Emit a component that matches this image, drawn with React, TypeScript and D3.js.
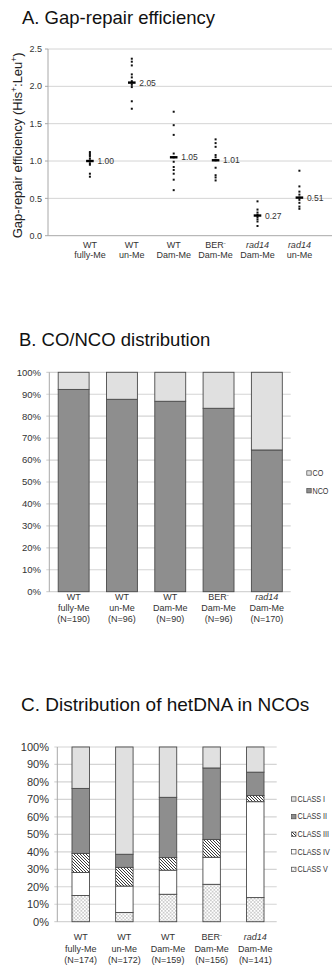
import React from "react";
import * as d3 from "d3";

// ---------- Panel A: gap-repair efficiency (individual values + means) ----------
const strainsA = ["WT", "WT", "WT", "BER", "rad14", "rad14"];
const methA = ["fully-Me", "un-Me", "Dam-Me", "Dam-Me", "Dam-Me", "un-Me"];
const dotsA: number[][] = [
  [1.12, 1.1, 1.08, 1.06, 1.03, 1.0, 0.97, 0.95, 0.83, 0.79],
  [2.37, 2.33, 2.28, 2.16, 2.12, 2.07, 2.05, 2.02, 1.99, 1.8, 1.7],
  [1.66, 1.48, 1.35, 1.1, 1.05, 0.99, 0.92, 0.88, 0.83, 0.75, 0.61],
  [1.29, 1.24, 1.19, 1.08, 1.05, 1.01, 0.91, 0.81, 0.78, 0.74],
  [0.46, 0.35, 0.31, 0.28, 0.25, 0.22, 0.19, 0.13],
  [0.87, 0.66, 0.59, 0.55, 0.51, 0.48, 0.44, 0.39, 0.36],
];
const meansA = [1.0, 2.05, 1.05, 1.01, 0.27, 0.51];
const yTicksA = [0, 0.5, 1, 1.5, 2, 2.5];

// ---------- Panel B: CO / NCO distribution ----------
const strainsB = ["WT", "WT", "WT", "BER", "rad14"];
const methB = ["fully-Me", "un-Me", "Dam-Me", "Dam-Me", "Dam-Me"];
const countsB = [190, 96, 90, 96, 170];
const ncoB = [92.2, 87.7, 86.8, 83.6, 64.6];
const coB = [7.8, 12.3, 13.2, 16.4, 35.4];
const seriesB = ["NCO", "CO"];

// ---------- Panel C: hetDNA classes among NCOs ----------
const strainsC = ["WT", "WT", "WT", "BER", "rad14"];
const methC = ["fully-Me", "un-Me", "Dam-Me", "Dam-Me", "Dam-Me"];
const countsC = [174, 172, 159, 156, 141];
const classV = [15.0, 5.3, 15.7, 21.4, 13.8];
const classIV = [13.2, 15.1, 13.8, 15.5, 54.9];
const classIII = [10.9, 10.7, 7.2, 10.2, 3.5];
const classII = [37.2, 7.5, 34.5, 40.9, 13.4];
const classI = [23.7, 61.4, 28.8, 12.0, 14.4];
const seriesC = ["CLASS V", "CLASS IV", "CLASS III", "CLASS II", "CLASS I"];
const legendC = ["CLASS I", "CLASS II", "CLASS III", "CLASS IV", "CLASS V"];

const pctTicks = [0, 0.1, 0.2, 0.3, 0.4, 0.5, 0.6, 0.7, 0.8, 0.9, 1];

const FONT = "'Liberation Sans', Arial, Helvetica, sans-serif";
const TEXT = "#333";
const GRID = "#d4d4d4";
const AXIS = "#a8a8a8";
const EDGE = "#4a4a4a";

const fillB: Record<string, string> = { NCO: "#8e8e8e", CO: "#e0e0e0" };
const fillC: Record<string, string> = {
  "CLASS I": "#e0e0e0",
  "CLASS II": "#8e8e8e",
  "CLASS III": "url(#hatch)",
  "CLASS IV": "#ffffff",
  "CLASS V": "url(#dots)",
};

function Strain({ name }: { name: string }) {
  if (name === "BER")
    return (
      <>
        BER
        <tspan fontSize={6} dy={-3.5}>
          -
        </tspan>
      </>
    );
  if (name === "rad14") return <tspan fontStyle="italic">rad14</tspan>;
  return <>{name}</>;
}

function CatLabel({
  x,
  y,
  strain,
  meth,
  count,
  gap,
}: {
  x: number;
  y: number;
  strain: string;
  meth: string;
  count?: number;
  gap: number;
}) {
  return (
    <g fontFamily={FONT} fontSize={9} fill={TEXT} textAnchor="middle">
      <text x={x} y={y}>
        <Strain name={strain} />
      </text>
      <text x={x} y={y + gap}>
        {meth}
      </text>
      {count !== undefined && (
        <text x={x} y={y + gap * 2}>
          (N={count})
        </text>
      )}
    </g>
  );
}

function LegendText({ x, y, label }: { x: number; y: number; label: string }) {
  return (
    <text
      transform={`translate(${x},${y}) scale(0.8,1)`}
      fontFamily={FONT}
      fontSize={9}
      fill={TEXT}
      dominantBaseline="middle"
    >
      {label}
    </text>
  );
}

function PanelA() {
  const y = d3.scaleLinear().domain([0, 2.5]).range([235.7, 49]);
  const x = d3.scaleLinear().domain([0, 7]).range([48, 48 + 7 * 41.9]);
  const left = 48;
  return (
    <g>
      <text x={22} y={24} fontFamily={FONT} fontSize={18.5} fill="#111">
        A. Gap-repair efficiency
      </text>
      {yTicksA.map((t) => (
        <g key={t}>
          {t > 0 && <line x1={left} x2={332} y1={y(t)} y2={y(t)} stroke={GRID} strokeWidth={1} />}
          <line x1={left - 3} x2={left} y1={y(t)} y2={y(t)} stroke={AXIS} />
          <text
            x={left - 6}
            y={y(t)}
            dy="0.35em"
            textAnchor="end"
            fontFamily={FONT}
            fontSize={9}
            fill={TEXT}
          >
            {d3.format(".1f")(t)}
          </text>
        </g>
      ))}
      <line x1={left} x2={left} y1={y(2.5)} y2={y(0)} stroke={AXIS} />
      <line x1={left} x2={332} y1={y(0)} y2={y(0)} stroke={AXIS} />
      <text
        transform={`translate(22,${(y(0) + y(2.5)) / 2 + 3}) rotate(-90)`}
        textAnchor="middle"
        fontFamily={FONT}
        fontSize={13}
        fill="#222"
      >
        Gap-repair efficiency (His
        <tspan fontSize={8.5} dy={-5}>
          +
        </tspan>
        <tspan dy={5}>:Leu</tspan>
        <tspan fontSize={8.5} dy={-5}>
          +
        </tspan>
        <tspan dy={5}>)</tspan>
      </text>
      {dotsA.map((vals, i) => {
        const cx = x(i + 1);
        return (
          <g key={i}>
            {vals.map((v, j) => (
              <rect key={j} x={cx - 1} y={y(v) - 1} width={2} height={2} fill="#111" />
            ))}
            <rect x={cx - 3.8} y={y(meansA[i]) - 1.2} width={7.6} height={2.4} fill="#000" />
            <text
              x={cx + 7.5}
              y={y(meansA[i])}
              dy="0.35em"
              fontFamily={FONT}
              fontSize={8.5}
              fill={TEXT}
            >
              {d3.format(".2f")(meansA[i])}
            </text>
            <CatLabel x={cx} y={248} strain={strainsA[i]} meth={methA[i]} gap={10} />
          </g>
        );
      })}
    </g>
  );
}

function PanelB() {
  const y = d3.scaleLinear().domain([0, 1]).range([591.7, 372.3]);
  const x = d3
    .scaleBand<number>()
    .domain(d3.range(strainsB.length))
    .range([49.5, 291])
    .paddingInner(0.36)
    .paddingOuter(0.18);
  const left = 49.3;
  const rows = strainsB.map((_, i) => ({ NCO: ncoB[i] / 100, CO: coB[i] / 100 }));
  const stacked = d3.stack<any>().keys(seriesB)(rows);
  return (
    <g>
      <text x={19} y={346} fontFamily={FONT} fontSize={18.5} fill="#111">
        B. CO/NCO distribution
      </text>
      {pctTicks.map((t) => (
        <g key={t}>
          <line x1={left - 3} x2={290.7} y1={y(t)} y2={y(t)} stroke={GRID} strokeWidth={1.2} />
          <text
            x={41}
            y={y(t)}
            dy="0.35em"
            textAnchor="end"
            fontFamily={FONT}
            fontSize={9.5}
            fill={TEXT}
          >
            {d3.format(".0%")(t)}
          </text>
        </g>
      ))}
      <line x1={left} x2={left} y1={y(1)} y2={y(0)} stroke={AXIS} />
      {stacked.map((s) =>
        s.map((d, i) => (
          <rect
            key={s.key + i}
            x={x(i)!}
            y={y(d[1])}
            width={x.bandwidth()}
            height={y(d[0]) - y(d[1])}
            fill={fillB[s.key]}
            stroke={EDGE}
            strokeWidth={0.9}
          />
        ))
      )}
      {strainsB.map((s, i) => (
        <CatLabel
          key={i}
          x={x(i)! + x.bandwidth() / 2}
          y={600}
          strain={s}
          meth={methB[i]}
          count={countsB[i]}
          gap={11}
        />
      ))}
      {["CO", "NCO"].map((k, i) => (
        <g key={k}>
          <rect
            x={306.8}
            y={473 + i * 17.7 - 2.2}
            width={4.4}
            height={4.4}
            fill={fillB[k]}
            stroke={EDGE}
            strokeWidth={0.7}
          />
          <LegendText x={312.5} y={473.5 + i * 17.7} label={k} />
        </g>
      ))}
    </g>
  );
}

function PanelC() {
  const y = d3.scaleLinear().domain([0, 1]).range([921.7, 747]);
  const x = d3
    .scaleBand<number>()
    .domain(d3.range(strainsC.length))
    .range([58.9, 277.1])
    .paddingInner(0.6)
    .paddingOuter(0.3);
  const left = 57.3;
  const rows = strainsC.map((_, i) => ({
    "CLASS V": classV[i] / 100,
    "CLASS IV": classIV[i] / 100,
    "CLASS III": classIII[i] / 100,
    "CLASS II": classII[i] / 100,
    "CLASS I": classI[i] / 100,
  }));
  const stacked = d3.stack<any>().keys(seriesC)(rows);
  return (
    <g>
      <text x={21} y={711} fontFamily={FONT} fontSize={19} fill="#111">
        C. Distribution of hetDNA in NCOs
      </text>
      {pctTicks.map((t) => (
        <g key={t}>
          <line x1={left - 3} x2={276.7} y1={y(t)} y2={y(t)} stroke={GRID} strokeWidth={1.2} />
          <text
            x={49}
            y={y(t)}
            dy="0.35em"
            textAnchor="end"
            fontFamily={FONT}
            fontSize={11}
            fill={TEXT}
          >
            {d3.format(".0%")(t)}
          </text>
        </g>
      ))}
      <line x1={left} x2={left} y1={y(1)} y2={y(0)} stroke={AXIS} />
      {stacked.map((s) =>
        s.map((d, i) => (
          <rect
            key={s.key + i}
            x={x(i)!}
            y={y(d[1])}
            width={x.bandwidth()}
            height={y(d[0]) - y(d[1])}
            fill={fillC[s.key]}
            stroke={EDGE}
            strokeWidth={0.9}
          />
        ))
      )}
      {strainsC.map((s, i) => (
        <CatLabel
          key={i}
          x={x(i)! + x.bandwidth() / 2}
          y={940}
          strain={s}
          meth={methC[i]}
          count={countsC[i]}
          gap={11.5}
        />
      ))}
      {legendC.map((k, i) => (
        <g key={k}>
          <rect
            x={291.6}
            y={799 + i * 17.6 - 2.2}
            width={4.4}
            height={4.4}
            fill={fillC[k]}
            stroke={EDGE}
            strokeWidth={0.7}
          />
          <LegendText x={297.5} y={799.5 + i * 17.6} label={k} />
        </g>
      ))}
    </g>
  );
}

export default function App() {
  return (
    <svg
      width={332}
      height={969}
      viewBox="0 0 332 969"
      style={{ position: "absolute", left: 0, top: 0, display: "block", background: "#fff" }}
    >
      <defs>
        <pattern id="hatch" width={3} height={3} patternUnits="userSpaceOnUse">
          <rect width={3} height={3} fill="#fff" />
          <path d="M-0.8,-0.8 L3.8,3.8 M-0.8,2.2 L0.8,3.8 M2.2,-0.8 L3.8,0.8" stroke="#222" strokeWidth={0.9} />
        </pattern>
        <pattern id="dots" width={3.5} height={3.5} patternUnits="userSpaceOnUse">
          <rect width={3.5} height={3.5} fill="#fff" />
          <rect x={0.4} y={0.4} width={0.9} height={0.9} fill="#444" />
          <rect x={2.15} y={2.15} width={0.9} height={0.9} fill="#444" />
        </pattern>
      </defs>
      <PanelA />
      <PanelB />
      <PanelC />
    </svg>
  );
}
